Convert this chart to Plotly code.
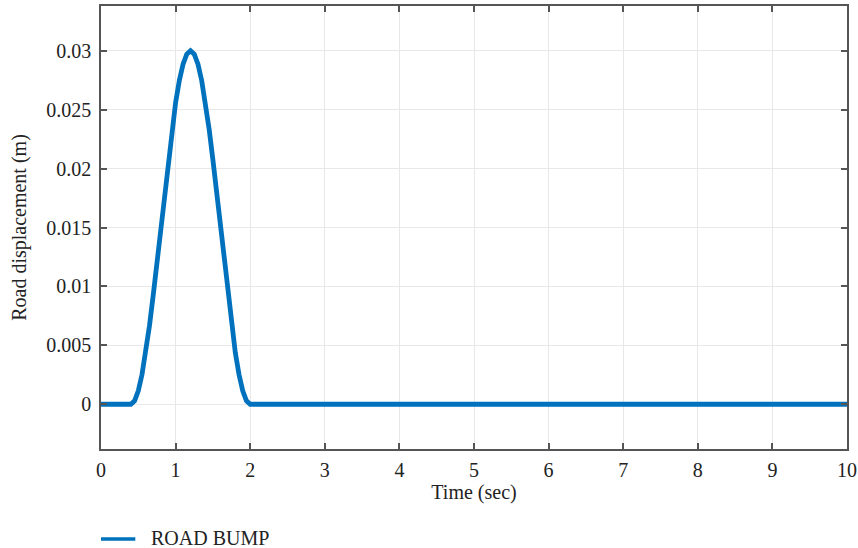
import plotly.graph_objects as go

# Road bump profile: time (s) and vertical road displacement (m)
time_sec = [0.0, 0.40, 0.45, 0.50, 0.55, 0.60, 0.65, 0.70, 0.75, 0.80, 0.85, 0.90,
            0.95, 1.00, 1.05, 1.10, 1.15, 1.20, 1.25, 1.30, 1.35, 1.40, 1.45,
            1.50, 1.55, 1.60, 1.65, 1.70, 1.75, 1.80, 1.85, 1.90, 1.95, 2.00, 10.0]
displacement_m = [0.0, 0.0, 0.00029, 0.00114, 0.00253, 0.00439, 0.00667, 0.00926,
                  0.01207, 0.0150, 0.01793, 0.02074, 0.02333, 0.02561, 0.02747,
                  0.02886, 0.02971, 0.0300, 0.02971, 0.02886, 0.02747, 0.02561,
                  0.02333, 0.02074, 0.01793, 0.0150, 0.01207, 0.00926, 0.00667,
                  0.00439, 0.00253, 0.00114, 0.00029, 0.0, 0.0]
series_name = "ROAD BUMP"

x_ticks = [0, 1, 2, 3, 4, 5, 6, 7, 8, 9, 10]
y_ticks = [0, 0.005, 0.01, 0.015, 0.02, 0.025, 0.03]
y_tick_text = ["0", "0.005", "0.01", "0.015", "0.02", "0.025", "0.03"]

FONT = "Liberation Serif"
TEXT_COLOR = "#222222"
AXIS_COLOR = "#555555"
GRID_COLOR = "#e8e8e8"
LINE_COLOR = "#0072BD"
FONT_SIZE = 20

fig = go.Figure()
fig.add_trace(go.Scatter(
    x=time_sec, y=displacement_m, mode="lines", name=series_name,
    line=dict(color=LINE_COLOR, width=4.8), showlegend=False,
))

axis_common = dict(
    showline=True, linecolor=AXIS_COLOR, linewidth=1.5, mirror="ticks",
    ticks="inside", ticklen=6, tickwidth=1.5, tickcolor=AXIS_COLOR,
    showgrid=True, gridcolor=GRID_COLOR, gridwidth=1, zeroline=False,
    tickfont=dict(family=FONT, size=FONT_SIZE, color=TEXT_COLOR),
    automargin=False,
)

fig.update_xaxes(
    range=[0, 10], tickvals=x_ticks, ticklabelstandoff=2,
    title=dict(text="Time (sec)", font=dict(family=FONT, size=FONT_SIZE, color=TEXT_COLOR), standoff=4),
    **axis_common,
)
fig.update_yaxes(
    range=[-0.0038, 0.0338], tickvals=y_ticks, ticktext=y_tick_text, ticklabelstandoff=4,
    title=dict(text="Road displacement (m)", font=dict(family=FONT, size=FONT_SIZE, color=TEXT_COLOR), standoff=14),
    **axis_common,
)

# Legend key below the axes, drawn as a short line sample plus its label
legend_y = -0.203
fig.add_shape(
    type="line", xref="paper", yref="paper",
    x0=0.0, x1=0.046, y0=legend_y, y1=legend_y,
    line=dict(color=LINE_COLOR, width=3.5),
)
fig.add_annotation(
    xref="paper", yref="paper", x=0.066, y=legend_y + 0.003,
    xanchor="left", yanchor="middle", showarrow=False,
    height=18, borderpad=0, valign="middle",
    text=series_name, font=dict(family=FONT, size=FONT_SIZE, color=TEXT_COLOR),
)

fig.update_layout(
    width=858, height=548,
    margin=dict(l=101, r=11, t=6, b=99, autoexpand=False),
    paper_bgcolor="white", plot_bgcolor="white",
    showlegend=False,
)

fig.write_html("out.html")
